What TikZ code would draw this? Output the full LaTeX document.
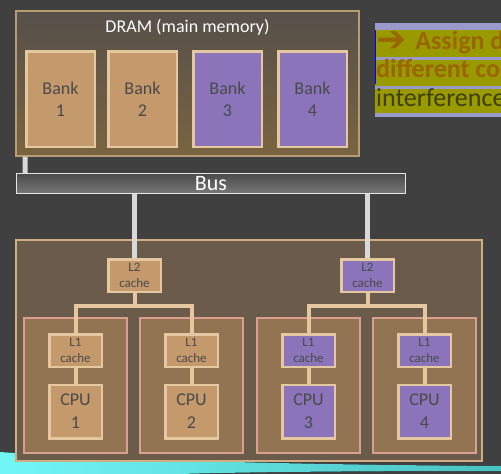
\documentclass[tikz,border=0pt]{standalone}
\usepackage{fontspec}
\setmainfont{Carlito}
\newfontfamily\symfont{DejaVu Sans}
\usepackage{xcolor}
\definecolor{slideBack}  {HTML}{404040}
\definecolor{dramTop}    {HTML}{565049}
\definecolor{dramBot}    {HTML}{7A6441}
\definecolor{dramEdge}   {HTML}{B89C74}
\definecolor{tanFill}    {HTML}{C49A6C}
\definecolor{tanEdge}    {HTML}{E6C8A0}
\definecolor{violetFill} {HTML}{8B74BA}
\definecolor{labelGray}  {HTML}{4A4A4A}
\definecolor{busTop}     {HTML}{4A4A4A}
\definecolor{busBot}     {HTML}{787878}
\definecolor{wireGray}   {HTML}{D9D9D9}
\definecolor{chipFill}   {HTML}{6B5B4B}
\definecolor{chipEdge}   {HTML}{D2AC82}
\definecolor{coreFill}   {HTML}{927453}
\definecolor{coreEdge}   {HTML}{D9A090}
\definecolor{noteBack}   {HTML}{9999CC}
\definecolor{noteMark}   {HTML}{999900}
\definecolor{noteText}   {HTML}{996600}
\definecolor{noteDark}   {HTML}{3F3F00}
\definecolor{swooshL}    {HTML}{72F6F6}
\definecolor{swooshR}    {HTML}{4AC2C2}
\usetikzlibrary{positioning, calc}
\tikzset{
    block/.style={rectangle, draw=tanEdge, line width=2.5pt, fill=tanFill,
                  text=labelGray, inner sep=0pt, align=center},
    bank/.style={block, minimum width=68.5pt, minimum height=95.5pt,
                 font=\fontsize{18}{22}\selectfont},
    vbank/.style={bank, fill=violetFill},
    cache/.style={block, minimum width=52.5pt, minimum height=32.5pt,
                  font=\fontsize{13}{16}\selectfont},
    vcache/.style={cache, fill=violetFill},
    cpu/.style={block, minimum width=52.5pt, minimum height=53.5pt,
                font=\fontsize{18}{23}\selectfont},
    vcpu/.style={cpu, fill=violetFill},
    core/.style={rectangle, draw=coreEdge, line width=2pt, fill=coreFill,
                 minimum width=103pt, minimum height=135pt},
    busline/.style={draw=wireGray, line width=5pt},
    cline/.style={draw=tanEdge, line width=4pt},
    noteline/.style={anchor=base west, inner sep=0pt},
}

\begin{document}
\begin{tikzpicture}[x=1pt, y=-1pt]
    \useasboundingbox[fill=slideBack] (0,0) rectangle (501,474);
    % swoosh at the foot of the slide
    \fill[left color=swooshL, right color=swooshR]
        (0,452) .. controls (150,462) and (350,465) .. (501,466)
        -- (501,471) .. controls (350,471) and (250,472) .. (180,474)
        -- (0,474) -- cycle;
    % DRAM
    \node[rectangle, draw=dramEdge, line width=1.5pt, top color=dramTop,
          bottom color=dramBot, minimum width=343pt, minimum height=145pt]
          (dram) at (187.5,83.5) {};
    \node[text=white, font=\fontsize{18}{22}\selectfont] (dramlbl)
          at (187.5,27) {DRAM (main memory)};
    \node[bank]  (bank1) at (60.5,99)  {Bank\\1};
    \node[bank]  (bank2) at (142.5,99) {Bank\\2};
    \node[vbank] (bank3) at (227.5,99) {Bank\\3};
    \node[vbank] (bank4) at (312.5,99) {Bank\\4};
    % Bus
    \node[rectangle, draw=white!90!black, line width=1pt, top color=busTop,
          bottom color=busBot, minimum width=389pt, minimum height=20pt,
          inner sep=0pt, text=white, font=\fontsize{22}{26}\selectfont]
          (bus) at (211,183.5) {Bus};
    % Processor chip
    \node[rectangle, draw=chipEdge, line width=2pt, fill=chipFill,
          minimum width=466pt, minimum height=221pt] (chip) at (249,350.5) {};
    \node[cache]  (l2a) at (134.5,275.5) {L2\\cache};
    \node[vcache] (l2b) at (367.5,275.5) {L2\\cache};
    \node[core] (core1) at (75.5,385.5)  {};
    \node[core] (core2) at (191.5,385.5) {};
    \node[core] (core3) at (308.5,385.5) {};
    \node[core] (core4) at (424.5,385.5) {};
    \node[cache]  (l1a) at (75.5,350.5)  {L1\\cache};
    \node[cache]  (l1b) at (191.5,350.5) {L1\\cache};
    \node[vcache] (l1c) at (308.5,350.5) {L1\\cache};
    \node[vcache] (l1d) at (424.5,350.5) {L1\\cache};
    \node[cpu,  below=15.5pt of l1a] (cpu1) {CPU\\1};
    \node[cpu,  below=15.5pt of l1b] (cpu2) {CPU\\2};
    \node[vcpu, below=15.5pt of l1c] (cpu3) {CPU\\3};
    \node[vcpu, below=15.5pt of l1d] (cpu4) {CPU\\4};
    % Wires to the bus
    \draw[busline] ([xshift=10pt]dram.south west) -- ([xshift=9pt]bus.north west);
    \draw[busline] (bus.south -| l2a) -- (l2a.north);
    \draw[busline] (bus.south -| l2b) -- (l2b.north);
    % Cache tree
    \draw[cline] (l2a.south) -- ++(0,12.5) coordinate (ja);
    \draw[cline] (l1a.north) |- (ja) -| (l1b.north);
    \draw[cline] (l2b.south) -- ++(0,12.5) coordinate (jb);
    \draw[cline] (l1c.north) |- (jb) -| (l1d.north);
    \foreach \i/\c in {a/1, b/2, c/3, d/4}
        \draw[cline] (l1\i) -- (cpu\c);
    % Note on the right, cut by the slide edge
    \fill[noteBack] (375,23) rectangle (505,116.5);
    \fill[noteMark] (375,30) rectangle (505,57);
    \fill[noteMark] (375,60) rectangle (505,86);
    \fill[noteMark] (375,89) rectangle (505,113);
    \draw[blue, line width=0.8pt] (375.4,30) -- (375.4,84);
    \node[noteline, text=noteText, font=\fontsize{26}{29}\bfseries\selectfont]
          (note1) at (376,49.5)
          {\raisebox{-2pt}{\symfont\fontsize{36}{36}\selectfont ➔}\hspace{9pt}Assign d};
    \node[noteline, text=noteText, font=\fontsize{26}{29}\bfseries\selectfont]
          (note2) at (376,77.5) {different co};
    \node[noteline, text=noteDark, font=\fontsize{26}{29}\selectfont]
          (note3) at (376,106) {interference};
\end{tikzpicture}
\end{document}
